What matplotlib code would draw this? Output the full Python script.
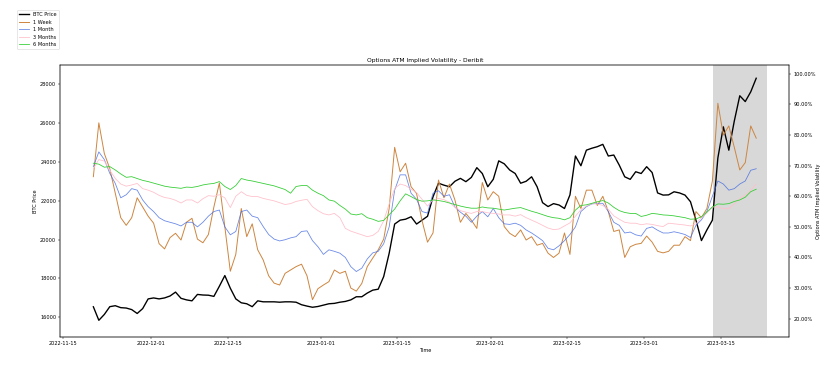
import pandas as pd
import matplotlib
matplotlib.use("Agg")
import matplotlib.pyplot as plt
import matplotlib.dates as mdates
from matplotlib.ticker import PercentFormatter

plt.rcParams["font.size"] = 8.8

# daily samples, 2022-11-20 12:00 -> 2023-03-21 12:00
dates = pd.date_range("2022-11-20 12:00", periods=122, freq="D")

btc = [16545, 15850, 16150, 16550, 16600, 16500, 16480, 16400, 16200, 16450,
       16950, 17000, 16950, 17000, 17100, 17300, 16980, 16900, 16850, 17180,
       17150, 17140, 17080, 17600, 18150, 17500, 16950, 16750, 16700, 16550,
       16850, 16800, 16800, 16800, 16780, 16800, 16800, 16780, 16650, 16580,
       16520, 16560, 16630, 16700, 16720, 16780, 16820, 16900, 17060, 17060,
       17250, 17400, 17450, 18100, 19300, 20800, 21000, 21050, 21175, 20800,
       21000, 21200, 22200, 22900, 22800, 22720, 23000, 23150, 22980, 23200,
       23700, 23400, 22720, 23100, 24050, 23900, 23580, 23400, 22900, 23000,
       23230, 22720, 21900, 21700, 21850, 21780, 21600, 22300, 24300, 23800,
       24600, 24700, 24780, 24900, 24300, 24350, 23830, 23230, 23100, 23490,
       23400, 23750, 23450, 22400, 22290, 22300, 22460, 22400, 22290, 21950,
       21000, 19950, 20500, 21000, 24200, 25800, 24600, 26100, 27400, 27100,
       27600, 28300]

iv_1w = [66.4, 84.0, 74.0, 69.0, 61.0, 53.0, 50.5, 53.0, 59.5, 56.5,
         53.5, 51.2, 44.5, 42.8, 46.5, 47.9, 45.7, 51.5, 52.8, 46.0,
         44.8, 47.5, 56.5, 64.3, 50.0, 35.5, 41.0, 56.0, 46.8, 51.0,
         42.5, 39.2, 34.0, 31.6, 31.0, 34.8, 35.9, 37.0, 37.8, 34.0,
         26.2, 29.8, 31.0, 32.1, 35.9, 34.8, 35.5, 30.0, 29.0, 31.5,
         37.0, 39.8, 42.5, 46.0, 56.0, 76.0, 68.0, 70.8, 63.1, 60.9,
         52.0, 45.0, 48.0, 65.3, 59.5, 64.0, 58.8, 51.5, 54.4, 52.2,
         49.5, 64.5, 58.8, 61.5, 60.0, 50.1, 47.9, 46.8, 49.0, 45.7,
         46.8, 44.0, 44.6, 41.4, 40.0, 41.4, 48.0, 41.0, 60.0, 56.0,
         62.0, 62.0, 57.0, 60.0, 55.0, 48.5, 49.0, 40.0, 43.5, 44.3,
         44.6, 47.0, 45.0, 42.0, 41.5, 42.0, 44.0, 44.0, 46.8, 45.5,
         55.0, 53.0, 56.0, 65.0, 90.4, 80.0, 83.0, 76.0, 68.6, 71.0,
         83.0, 79.0]

iv_1m = [69.7, 74.5, 72.0, 67.5, 64.2, 59.5, 60.5, 62.5, 62.0, 58.8,
         56.6, 55.0, 53.0, 52.0, 51.5, 51.0, 50.3, 51.5, 51.5, 50.0,
         51.5, 53.5, 55.0, 55.5, 50.0, 47.4, 48.5, 55.0, 55.5, 53.5,
         53.0, 50.1, 47.5, 46.0, 45.4, 45.8, 46.4, 46.8, 48.5, 48.7,
         45.5, 43.5, 41.0, 42.5, 42.0, 41.4, 40.0, 37.0, 35.4, 36.5,
         39.5, 41.5, 42.0, 44.5, 50.0, 62.0, 67.0, 67.0, 61.0, 59.0,
         55.0, 54.5, 61.0, 61.8, 60.0, 60.5, 56.5, 54.8, 53.5, 51.5,
         53.5, 55.0, 53.3, 56.0, 53.0, 51.0, 50.8, 51.2, 50.5, 49.0,
         48.0, 46.8, 45.5, 43.0, 42.5, 43.8, 45.5, 47.5, 50.0, 55.0,
         56.6, 57.5, 57.7, 57.7, 55.0, 51.5, 50.5, 48.0, 48.3, 47.4,
         47.0, 49.5, 50.0, 48.9, 48.0, 48.0, 48.4, 48.0, 47.5, 46.5,
         50.5, 52.3, 55.0, 60.0, 65.0, 64.0, 62.0, 62.5, 64.0, 65.0,
         68.5, 69.0]

iv_3m = [69.0, 72.0, 71.5, 68.5, 65.8, 64.0, 63.3, 63.7, 64.2, 62.5,
         62.0, 61.3, 60.3, 59.6, 59.3, 58.7, 57.8, 58.8, 58.8, 57.8,
         59.2, 60.2, 60.0, 60.5, 59.5, 56.3, 60.0, 61.5, 60.3, 59.9,
         59.9, 59.3, 58.9, 58.5, 57.9, 57.3, 57.6, 58.3, 58.7, 59.0,
         56.6, 55.3, 54.3, 53.9, 54.4, 53.0, 49.5, 48.6, 48.0, 47.4,
         46.8, 47.2, 48.5, 52.0, 57.5, 62.5, 64.0, 63.5, 62.3, 61.2,
         59.0, 56.8, 58.8, 59.3, 58.9, 58.0, 56.4, 55.3, 54.8, 54.4,
         55.0, 55.0, 54.6, 54.4, 54.2, 53.9, 53.9, 53.5, 54.0, 53.0,
         52.2, 51.4, 50.5, 49.6, 49.1, 49.3, 50.3, 51.3, 53.5, 55.6,
         56.8, 57.6, 57.5, 57.0, 55.7, 53.6, 52.5, 51.5, 51.2, 51.2,
         50.7, 51.0, 50.8, 50.4, 50.1, 51.2, 51.0, 50.8, 50.6, 50.3,
         51.0, 53.0, 54.5, 56.5, 56.5, 56.0, 56.0, 57.5, 59.3, 60.4,
         62.0, 64.0]

iv_6m = [70.8, 70.5, 69.5, 69.7, 68.6, 67.3, 66.2, 66.4, 65.8, 65.2,
         64.8, 64.3, 63.8, 63.3, 63.0, 62.8, 62.6, 63.0, 62.9, 63.2,
         63.7, 64.0, 64.2, 64.8, 63.2, 62.2, 63.5, 65.8, 65.3, 65.0,
         64.6, 64.2, 63.8, 63.4, 62.8, 62.2, 61.0, 63.2, 63.5, 63.5,
         62.0, 61.0, 60.2, 58.8, 58.4, 57.0, 55.8, 54.2, 53.9, 54.3,
         53.0, 52.5, 51.8, 52.1, 54.0, 55.8, 58.5, 60.8, 59.9, 58.9,
         58.4, 58.5, 58.8, 58.6, 58.3, 57.8, 57.3, 56.8, 56.4, 56.1,
         56.1, 56.5, 56.2, 56.1, 55.8, 55.5, 55.8, 56.1, 56.3, 55.7,
         55.1, 54.6, 54.0, 53.4, 53.0, 52.8, 52.3, 53.0, 55.5, 57.0,
         57.2, 57.7, 58.2, 58.6, 57.8, 56.4, 55.3, 54.7, 54.4, 54.4,
         53.4, 53.8, 54.4, 54.2, 53.9, 53.8, 53.6, 53.3, 53.0, 52.5,
         52.6, 53.3, 54.9, 56.5, 57.5, 57.4, 57.6, 58.3, 58.8, 59.7,
         61.5, 62.3]

fig = plt.figure(figsize=(821 / 41, 369 / 41), dpi=41)
ax = fig.add_axes([0.0734, 0.0867, 0.888, 0.7371])
ax2 = ax.twinx()

ax.axvspan(pd.Timestamp("2023-03-13 16:00"), pd.Timestamp("2023-03-23 12:00"),
           color="grey", alpha=0.3, lw=0)
ax.plot(dates, btc, color="black", lw=2.4, label="BTC Price")

ax2.plot(dates, iv_1w, color="peru", lw=1.7, label="1 Week")
ax2.plot(dates, iv_1m, color="royalblue", lw=1.4, alpha=0.8, label="1 Month")
ax2.plot(dates, iv_3m, color="pink", lw=1.4, label="3 Months")
ax2.plot(dates, iv_6m, color="limegreen", lw=1.4, label="6 Months")

ax.set_xlim(pd.Timestamp("2022-11-14 11:00"), pd.Timestamp("2023-03-27 13:00"))
ax.set_ylim(14990, 28980)
ax2.set_ylim(14.0, 102.9)

ax.xaxis.set_major_locator(mdates.DayLocator(bymonthday=[1, 15]))
ax.xaxis.set_major_formatter(mdates.DateFormatter("%Y-%m-%d"))
ax2.yaxis.set_major_formatter(PercentFormatter(xmax=100, decimals=2))

ax.set_title("Options ATM Implied Volatility - Deribit")
ax.set_xlabel("Time")
ax.set_ylabel("BTC Price")
ax2.set_ylabel("Options ATM Implied Volatility", labelpad=1)

fig.legend(loc="upper left", bbox_to_anchor=(17 / 821, 1 - 10 / 369), borderaxespad=0)

fig.savefig("out.png", dpi=41)
